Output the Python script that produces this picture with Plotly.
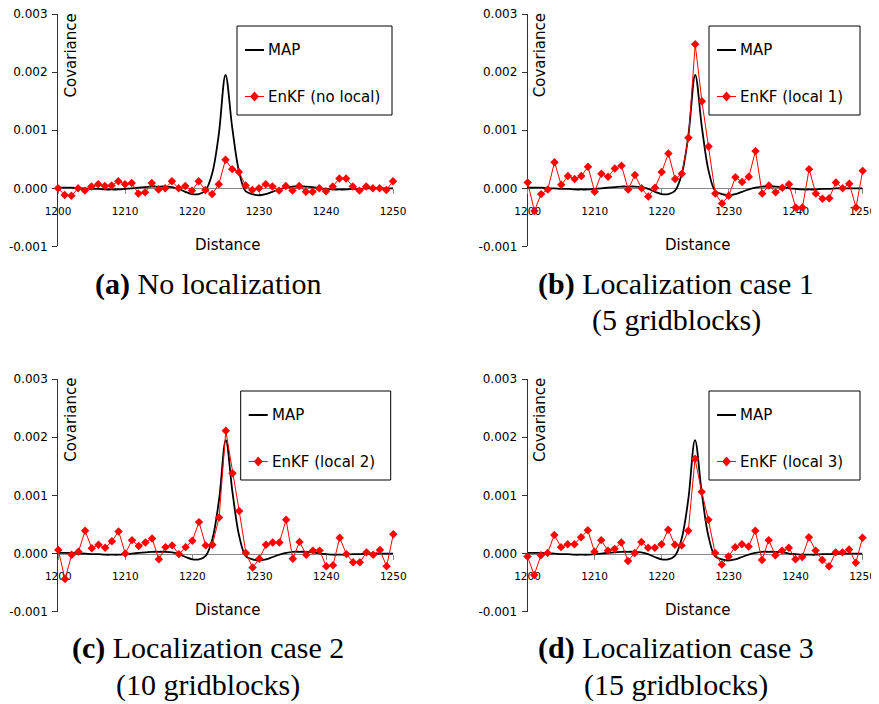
import plotly.graph_objects as go

# ---------------- data ----------------
distance = list(range(1200, 1251))

map_cov = [0.00001, 0.00001, 0.00001, 0.0, 0.0, -0.00001, -0.00001, -0.00002, -0.00002, -0.00002,
           -0.00001, 0.0, 0.00001, 0.00002, 0.00003, 0.00003, 0.00003, 0.00002, -0.00001, -0.00006,
           -0.0001, -0.0001, -0.00004, 0.00025, 0.00093, 0.00195, 0.00105, 0.0003, -0.00005, -0.0001,
           -0.00012, -0.0001, -0.00006, -0.00002, 0.00001, 0.00003, 0.00003, 0.00003, 0.00002, 0.0,
           -0.00001, -0.00002, -0.00002, -0.00002, -0.00001, -0.00001, 0.0, 0.0, 0.0, 0.0, 0.0]

enkf_noloc = [0.0, -0.000115, -0.00013, 0.0, -0.00004, 0.00003, 0.00007, 0.00004, 0.00005, 0.00012,
              0.00007, 0.00009, -0.00009, -0.00007, 0.00009, -0.00002, 0.0, 0.00012, 0.0, 0.00004,
              -0.00004, 0.00012, -0.00003, -0.0001, 0.00007, 0.00049, 0.00033, 0.00028, 0.00005, -0.00003,
              0.0, 0.00007, 0.00003, -0.00004, 0.00004, -0.00004, 0.00004, -0.00006, -0.00006, 0.0,
              -0.00005, 0.00003, 0.00017, 0.00017, 0.00003, -0.00004, 0.00003, 0.0, 0.0, -0.00003, 0.00012]

enkf_loc1 = [0.0001, -0.00039, -0.0001, -0.00002, 0.00045, 0.00006, 0.00021, 0.00016, 0.00021, 0.00037,
             -0.00006, 0.00025, 0.0002, 0.00034, 0.00039, -0.00002, 0.00023, 0.0, -0.00014, 0.00001,
             0.00028, 0.0006, 0.00016, 0.00025, 0.00087, 0.00248, 0.0015, 0.00072, -0.00009, -0.00026,
             -0.00013, 0.00019, 0.00011, 0.0002, 0.00064, -0.00009, 0.00005, -0.00007, 0.00001, 0.00007,
             -0.00033, -0.00033, 0.00033, -0.00009, -0.00018, -0.00017, 0.0001, 0.0, 0.00008, -0.00033, 0.0003]

enkf_loc2 = [0.00006, -0.00044, -0.00002, 0.00003, 0.00039, 0.00009, 0.00015, 0.0001, 0.00021, 0.00038,
             0.0, 0.00023, 0.00013, 0.00019, 0.00026, -0.0001, 0.00011, 0.00014, -0.00001, 0.00011,
             0.00022, 0.00054, 0.00014, 0.00015, 0.00062, 0.00211, 0.00138, 0.00073, 0.00001, -0.00024,
             -0.00009, 0.00015, 0.00019, 0.00019, 0.00058, -0.00009, 0.0002, -0.00002, 0.00005, 0.00005,
             -0.00022, -0.0002, 0.00027, -0.00001, -0.00015, -0.00015, 0.00002, -0.00002, 0.00006, -0.00022, 0.00033]

enkf_loc3 = [-0.00005, -0.00037, -0.00003, 0.00001, 0.00032, 0.00011, 0.00016, 0.00016, 0.00028, 0.0004,
             0.00003, 0.00023, 0.00005, 0.00008, 0.00019, -0.00013, 0.00001, 0.0002, 0.0001, 0.0001,
             0.00016, 0.00041, 0.00015, 0.00014, 0.00039, 0.00163, 0.00106, 0.00058, 0.00001, -0.00019,
             -0.00005, 0.00011, 0.00016, 0.00012, 0.00039, -0.00011, 0.00023, -0.00003, 0.00005, 0.0001,
             -0.0001, -0.00006, 0.00028, 0.00005, -0.00011, -0.00022, 0.00002, 0.00002, 0.00007, -0.00016, 0.00027]

panel_series = [enkf_noloc, enkf_loc1, enkf_loc2, enkf_loc3]
legend_names = ["EnKF (no local)", "EnKF (local 1)", "EnKF (local 2)", "EnKF (local 3)"]
map_name = "MAP"
caption_tags = ["(a)", "(b)", "(c)", "(d)"]
caption_line1 = ["No localization", "Localization case 1", "Localization case 2", "Localization case 3"]
caption_line2 = ["", "(5 gridblocks)", "(10 gridblocks)", "(15 gridblocks)"]
x_title = "Distance"
y_title = "Covariance"
x_range = [1200, 1250]
x_ticks = [1200, 1210, 1220, 1230, 1240, 1250]
y_range = [-0.001, 0.003]
y_ticks = [-0.001, 0.0, 0.001, 0.002, 0.003]
y_tick_labels = ["-0.001", "0.000", "0.001", "0.002", "0.003"]

# ---------------- layout geometry (window pixels) ----------------
WIN_W, WIN_H = 879, 704
PAGE_MARGIN = 8  # default body margin of the html page
W, H = WIN_W - PAGE_MARGIN, WIN_H - PAGE_MARGIN
panels = [(58.0, 393.0, 14.0, 246.4), (527.7, 862.7, 14.0, 246.4),
          (58.3, 393.3, 379.0, 611.7), (527.5, 862.5, 379.0, 611.7)]
legend_boxes = [(237.0, 26.0, 392.0, 115.0), (709.0, 26.0, 860.0, 115.0),
                (240.7, 391.0, 390.7, 480.0), (709.0, 391.0, 860.0, 480.0)]
caption_cx = [208, 676, 208, 676]
caption_cy = [(284, 320), (284, 320), (648, 685), (648, 685)]

SANS = "DejaVu Sans"
SERIF = "Liberation Serif"
RED = "#FF0000"


def px(x):
    return (x - PAGE_MARGIN) / W


def py(y):
    return 1 - (y - PAGE_MARGIN) / H


fig = go.Figure()
layout = dict(width=W, height=H,
              margin=dict(l=0, r=0, t=0, b=0, pad=0, autoexpand=False),
              paper_bgcolor="white", plot_bgcolor="white", showlegend=False)
annotations = []
shapes = []

for i, (x0, x1, yt, yb) in enumerate(panels):
    sfx = "" if i == 0 else str(i + 1)
    xd = [px(x0), px(x1)]
    yd = [py(yb), py(yt)]
    zero_pos = yd[0] + (0 - y_range[0]) / (y_range[1] - y_range[0]) * (yd[1] - yd[0])

    layout["xaxis" + sfx] = dict(
        domain=xd, range=x_range, anchor="free", position=zero_pos, automargin=False,
        showline=True, linecolor="#888888", linewidth=1,
        ticks="outside", ticklen=5, tickcolor="#888888", tickwidth=1,
        tickmode="array", tickvals=x_ticks,
        tickfont=dict(family=SANS, size=10.5, color="black"),
        ticklabelstandoff=8, ticklabeloverflow="allow",
        showgrid=False, zeroline=False, layer="below traces", fixedrange=True)
    layout["yaxis" + sfx] = dict(
        domain=yd, range=y_range, anchor="x" + sfx, automargin=False,
        showline=True, linecolor="#333333", linewidth=1,
        ticks="outside", ticklen=5, tickcolor="#333333",
        tickmode="array", tickvals=y_ticks, ticktext=y_tick_labels,
        tickfont=dict(family=SANS, size=12, color="black"),
        ticklabelstandoff=2, ticklabeloverflow="allow",
        showgrid=False, zeroline=False, layer="below traces", fixedrange=True)

    fig.add_trace(go.Scatter(
        x=distance, y=map_cov, mode="lines", name=map_name,
        line=dict(color="black", width=1.8, shape="spline", smoothing=1.0),
        xaxis="x" + sfx, yaxis="y" + sfx, cliponaxis=False, hoverinfo="skip"))
    fig.add_trace(go.Scatter(
        x=distance, y=panel_series[i], mode="lines+markers", name=legend_names[i],
        line=dict(color=RED, width=1),
        marker=dict(symbol="diamond", size=6.5, color=RED, line=dict(width=0)),
        xaxis="x" + sfx, yaxis="y" + sfx, cliponaxis=False))

    # axis titles
    annotations.append(dict(text=y_title, textangle=-90, x=px(x0 + 12.5), y=py(yt + 41),
                            xref="paper", yref="paper", showarrow=False,
                            xanchor="center", yanchor="middle",
                            font=dict(family=SANS, size=15, color="black")))
    annotations.append(dict(text=x_title, x=px(x0 + 170), y=py(yt + 231),
                            xref="paper", yref="paper", showarrow=False,
                            xanchor="center", yanchor="middle",
                            font=dict(family=SANS, size=15, color="black")))

    # legend box
    lx0, ly0, lx1, ly1 = legend_boxes[i]
    shapes.append(dict(type="rect", xref="paper", yref="paper",
                       x0=px(lx0), x1=px(lx1), y0=py(ly1), y1=py(ly0),
                       line=dict(color="black", width=1), fillcolor="white", layer="above"))
    y_map = ly0 + 24
    y_enkf = ly0 + 70.5
    shapes.append(dict(type="line", xref="paper", yref="paper",
                       x0=px(lx0 + 8), x1=px(lx0 + 27), y0=py(y_map), y1=py(y_map),
                       line=dict(color="black", width=2), layer="above"))
    shapes.append(dict(type="line", xref="paper", yref="paper",
                       x0=px(lx0 + 8), x1=px(lx0 + 27), y0=py(y_enkf), y1=py(y_enkf),
                       line=dict(color=RED, width=1), layer="above"))
    cx, cy = lx0 + 17.5, y_enkf
    dpath = "M{},{} L{},{} L{},{} L{},{} Z".format(
        px(cx - 4.5), py(cy), px(cx), py(cy - 5), px(cx + 4.5), py(cy), px(cx), py(cy + 5))
    shapes.append(dict(type="path", xref="paper", yref="paper", path=dpath,
                       line=dict(color=RED, width=0), fillcolor=RED, layer="above"))
    annotations.append(dict(text=map_name, x=px(lx0 + 29), y=py(y_map), xref="paper", yref="paper",
                            showarrow=False, xanchor="left", yanchor="middle",
                            font=dict(family=SANS, size=15, color="black")))
    annotations.append(dict(text=legend_names[i], x=px(lx0 + 29), y=py(y_enkf), xref="paper",
                            yref="paper", showarrow=False, xanchor="left", yanchor="middle",
                            font=dict(family=SANS, size=15, color="black")))

    # captions
    c1, c2 = caption_cy[i]
    annotations.append(dict(text="<b>" + caption_tags[i] + "</b> " + caption_line1[i],
                            x=px(caption_cx[i]), y=py(c1), xref="paper", yref="paper",
                            showarrow=False, xanchor="center", yanchor="middle",
                            font=dict(family=SERIF, size=30, color="black")))
    if caption_line2[i]:
        annotations.append(dict(text=caption_line2[i],
                                x=px(caption_cx[i]), y=py(c2), xref="paper", yref="paper",
                                showarrow=False, xanchor="center", yanchor="middle",
                                font=dict(family=SERIF, size=30, color="black")))

layout["annotations"] = annotations
layout["shapes"] = shapes
fig.update_layout(**layout)
fig.write_html("out.html")
